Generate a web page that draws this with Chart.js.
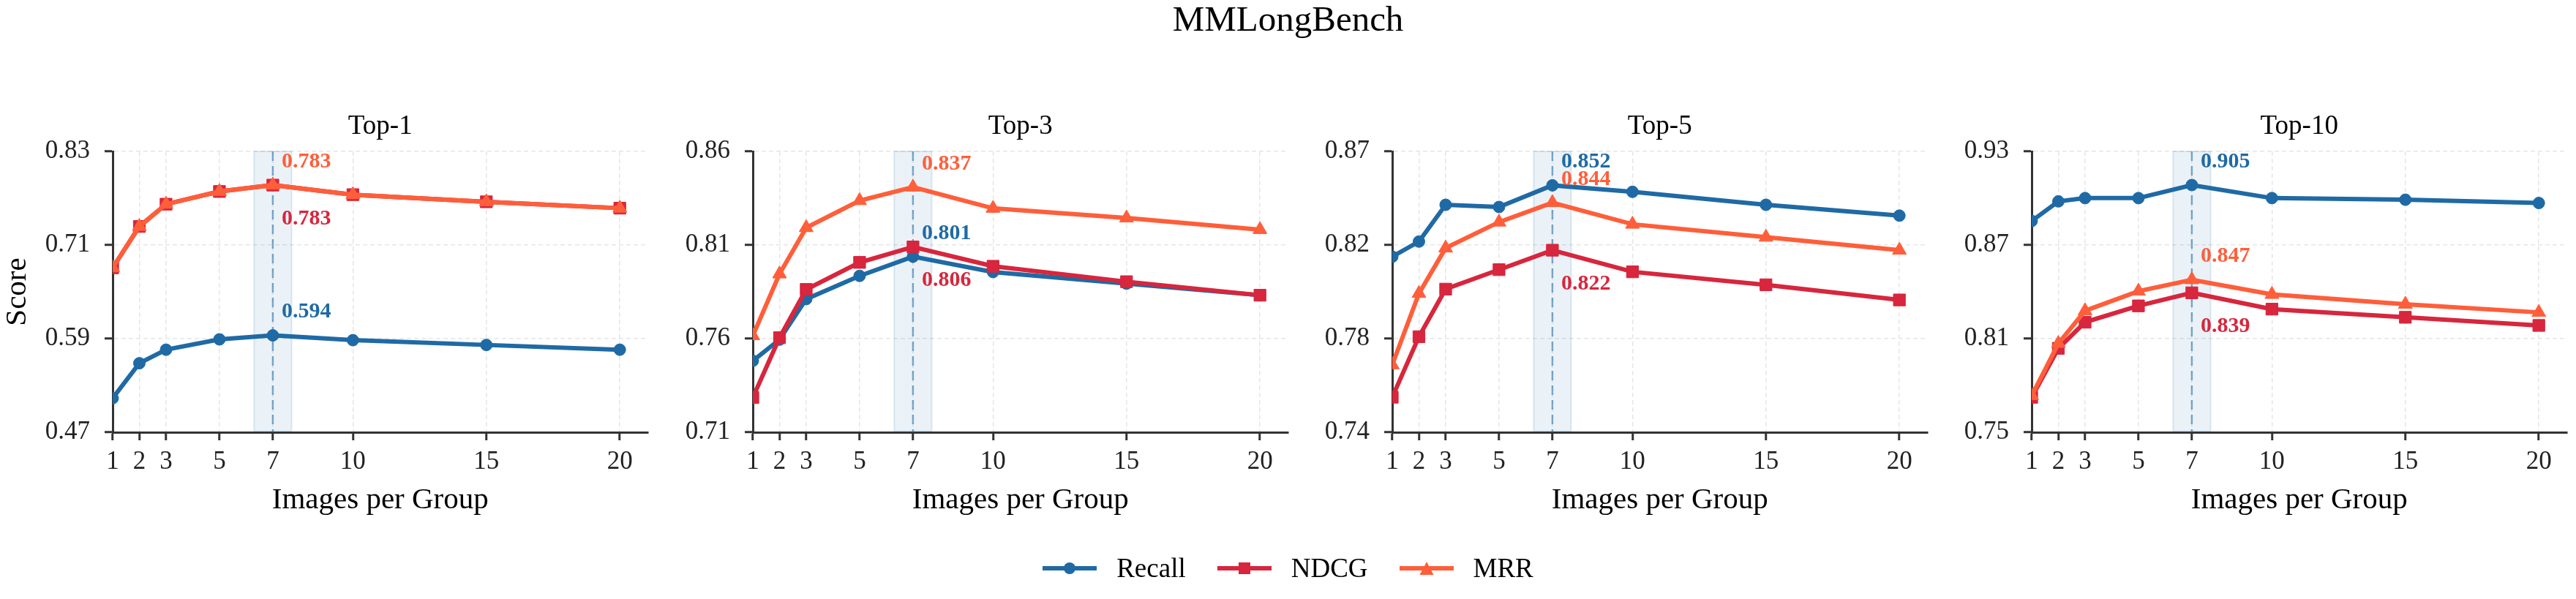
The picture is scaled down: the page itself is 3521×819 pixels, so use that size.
<!DOCTYPE html>
<html lang="en">
<head>
<meta charset="UTF-8">
<title>MMLongBench</title>
<script src="https://cdn.jsdelivr.net/npm/chart.js@4"></script>
<style>
  body {
    margin: 0;
    width: 3521px;
    height: 819px;
    overflow: hidden;
    background: #fff;
    position: relative;
    font-family: "Liberation Serif", "Times New Roman", serif;
  }
  #mainTitle {
    position: absolute; left: 0; top: 1px; width: 3521px;
    text-align: center; font-size: 49px; line-height: 1; color: #000;
  }
  canvas { position: absolute; top: 0; }
  #legend {
    position: absolute; left: 0; top: 757px; width: 3521px; height: 40px;
    display: flex; justify-content: center; align-items: center;
    font-size: 37px; color: #000;
  }
  .item { display: flex; align-items: center; }
  .item + .item { margin-left: 43px; }
  .item span { margin-left: 27px; line-height: 1.15; }
</style>
</head>
<body>
  <div id="mainTitle">MMLongBench</div>

  <canvas id="p1" width="898" height="819" style="left:0px"></canvas>
  <canvas id="p2" width="854" height="819" style="left:919px"></canvas>
  <canvas id="p3" width="854" height="819" style="left:1793px"></canvas>
  <canvas id="p4" width="854" height="819" style="left:2667px"></canvas>

  <div id="legend">
    <div class="item">
      <svg width="74" height="24"><line x1="0" y1="12" x2="74" y2="12" stroke="#1F6AA5" stroke-width="6"/><circle cx="37" cy="12" r="8" fill="#1F6AA5"/></svg>
      <span>Recall</span>
    </div>
    <div class="item">
      <svg width="74" height="24"><line x1="0" y1="12" x2="74" y2="12" stroke="#D7263D" stroke-width="6"/><rect x="29" y="4" width="16" height="16" fill="#D7263D"/></svg>
      <span>NDCG</span>
    </div>
    <div class="item">
      <svg width="74" height="24"><line x1="0" y1="12" x2="74" y2="12" stroke="#FF5E3A" stroke-width="6"/><polygon points="37,3 27.5,21 46.5,21" fill="#FF5E3A"/></svg>
      <span>MRR</span>
    </div>
  </div>

  <script>
    // x axis: images per group
    const xValues = [1, 2, 3, 5, 7, 10, 15, 20];
    const highlightX = 7;

    // Top-1
    const recallTop1 = [0.515, 0.559, 0.576, 0.589, 0.594, 0.588, 0.582, 0.576];
    const ndcgTop1   = [0.679, 0.731, 0.759, 0.775, 0.783, 0.771, 0.762, 0.754];
    const mrrTop1    = [0.679, 0.731, 0.759, 0.775, 0.783, 0.771, 0.762, 0.754];
    const yRangeTop1 = [0.4722, 0.8254];
    const yTicksTop1 = ['0.47', '0.59', '0.71', '0.83'];

    // Top-3
    const recallTop3 = [0.747, 0.758, 0.779, 0.791, 0.801, 0.793, 0.787, 0.781];
    const ndcgTop3   = [0.728, 0.759, 0.784, 0.798, 0.806, 0.796, 0.788, 0.781];
    const mrrTop3    = [0.760, 0.792, 0.816, 0.830, 0.837, 0.826, 0.821, 0.815];
    const yRangeTop3 = [0.7100, 0.8555];
    const yTicksTop3 = ['0.71', '0.76', '0.81', '0.86'];

    // Top-5
    const recallTop5 = [0.819, 0.826, 0.843, 0.842, 0.852, 0.849, 0.843, 0.838];
    const ndcgTop5   = [0.754, 0.782, 0.804, 0.813, 0.822, 0.812, 0.806, 0.799];
    const mrrTop5    = [0.769, 0.802, 0.823, 0.835, 0.844, 0.834, 0.828, 0.822];
    const yRangeTop5 = [0.7378, 0.8677];
    const yTicksTop5 = ['0.74', '0.78', '0.82', '0.87'];

    // Top-10
    const recallTop10 = [0.883, 0.895, 0.897, 0.897, 0.905, 0.897, 0.896, 0.894];
    const ndcgTop10   = [0.775, 0.805, 0.821, 0.831, 0.839, 0.829, 0.824, 0.819];
    const mrrTop10    = [0.776, 0.808, 0.828, 0.840, 0.847, 0.838, 0.832, 0.827];
    const yRangeTop10 = [0.7536, 0.9256];
    const yTicksTop10 = ['0.75', '0.81', '0.87', '0.93'];

    const FONT = '"Liberation Serif", "Times New Roman", serif';
    const colors = { recall: '#1F6AA5', ndcg: '#D7263D', mrr: '#FF5E3A' };

    // shaded band + dashed line at the best group size
    const bandPlugin = {
      id: 'band',
      beforeDatasetsDraw(chart) {
        const ctx = chart.ctx;
        const x = chart.scales.x;
        const area = chart.chartArea;
        const x0 = x.getPixelForValue(highlightX - 0.7);
        const x1 = x.getPixelForValue(highlightX + 0.7);
        const xm = x.getPixelForValue(highlightX);
        ctx.save();
        ctx.fillStyle = 'rgba(31,106,168,0.09)';
        ctx.fillRect(x0, area.top, x1 - x0, area.bottom - area.top - 1.5);
        ctx.strokeStyle = 'rgba(31,106,168,0.14)';
        ctx.lineWidth = 2;
        ctx.strokeRect(x0, area.top, x1 - x0, area.bottom - area.top - 1.5);
        ctx.strokeStyle = 'rgba(31,106,168,0.55)';
        ctx.lineWidth = 2.5;
        ctx.setLineDash([13, 7]);
        ctx.beginPath();
        ctx.moveTo(xm, area.top);
        ctx.lineTo(xm, area.bottom);
        ctx.stroke();
        ctx.restore();
      }
    };

    // value labels at the highlighted point
    const labelOffsets = { Recall: -32, NDCG: 46, MRR: -32 };
    const peakLabelPlugin = {
      id: 'peakLabels',
      afterDatasetsDraw(chart) {
        const ctx = chart.ctx;
        const idx = xValues.indexOf(highlightX);
        chart.data.datasets.forEach(ds => {
          const v = ds.data[idx].y;
          const px = chart.scales.x.getPixelForValue(highlightX) + 12;
          const py = chart.scales.y.getPixelForValue(v) + labelOffsets[ds.label];
          ctx.save();
          ctx.font = 'bold 30px ' + FONT;
          ctx.fillStyle = ds.borderColor;
          ctx.textAlign = 'left';
          ctx.textBaseline = 'middle';
          ctx.fillText(v.toFixed(3), px, py);
          ctx.restore();
        });
      }
    };

    function series(label, values, color, style, radius, order) {
      return {
        label: label,
        data: xValues.map((x, i) => ({ x: x, y: values[i] })),
        borderColor: color,
        backgroundColor: color,
        borderWidth: 6,
        pointStyle: style,
        pointRadius: radius,
        pointBorderWidth: 1,
        tension: 0,
        clip: 0,
        order: order
      };
    }

    function makePanel(id, title, recall, ndcg, mrr, yRange, yTicks, yAxisWidth, showScore) {
      new Chart(document.getElementById(id), {
        type: 'line',
        data: {
          datasets: [
            series('Recall', recall, colors.recall, 'circle', 8, 3),
            series('NDCG', ndcg, colors.ndcg, 'rect', 11.5, 2),
            series('MRR', mrr, colors.mrr, 'triangle', 11, 1)
          ]
        },
        options: {
          responsive: false,
          animation: false,
          devicePixelRatio: 1,
          layout: { padding: { top: 151, bottom: 98, left: 0, right: 4 } },
          plugins: {
            legend: { display: false },
            tooltip: { enabled: false },
            title: {
              display: true,
              text: title,
              fullSize: false,
              color: '#000',
              font: { family: FONT, size: 37, weight: 'normal' },
              padding: { top: 0, bottom: 11.6 }
            }
          },
          scales: {
            x: {
              type: 'linear',
              min: 1,
              max: 21.05,
              bounds: 'data',
              afterBuildTicks: s => { s.ticks = xValues.map(v => ({ value: v })); },
              afterFit: s => { s.height = 130; },
              ticks: {
                autoSkip: false, maxRotation: 0, padding: 9,
                color: '#222', font: { family: FONT, size: 35 },
                callback: v => String(v)
              },
              grid: { color: '#e6e6e6', lineWidth: 1.5, tickLength: 11, tickWidth: 3, tickColor: '#333' },
              border: { color: '#333', width: 3, dash: [6, 4] },
              title: {
                display: true, text: 'Images per Group', color: '#000',
                font: { family: FONT, size: 41 }, padding: { top: 0, bottom: 12.4 }
              }
            },
            y: {
              type: 'linear',
              min: yRange[0],
              max: yRange[1],
              bounds: 'data',
              afterBuildTicks: s => {
                s.ticks = yTicks.map((t, i) => ({ value: yRange[0] + i * (yRange[1] - yRange[0]) / (yTicks.length - 1) }));
              },
              afterFit: s => { s.width = yAxisWidth; },
              ticks: {
                autoSkip: false, padding: 20,
                color: '#222', font: { family: FONT, size: 35 },
                callback: (v, i) => yTicks[i]
              },
              grid: { color: '#e6e6e6', lineWidth: 1.5, tickLength: 11, tickWidth: 3, tickColor: '#333' },
              border: { color: '#333', width: 3, dash: [6, 4] },
              title: {
                display: showScore, text: 'Score', color: '#000',
                font: { family: FONT, size: 41 }, padding: { top: 0, bottom: 0 }
              }
            }
          }
        },
        plugins: [bandPlugin, peakLabelPlugin]
      });
    }

    makePanel('p1', 'Top-1', recallTop1, ndcgTop1, mrrTop1, yRangeTop1, yTicksTop1, 154, true);
    makePanel('p2', 'Top-3', recallTop3, ndcgTop3, mrrTop3, yRangeTop3, yTicksTop3, 110, false);
    makePanel('p3', 'Top-5', recallTop5, ndcgTop5, mrrTop5, yRangeTop5, yTicksTop5, 110, false);
    makePanel('p4', 'Top-10', recallTop10, ndcgTop10, mrrTop10, yRangeTop10, yTicksTop10, 110, false);
  </script>
</body>
</html>
